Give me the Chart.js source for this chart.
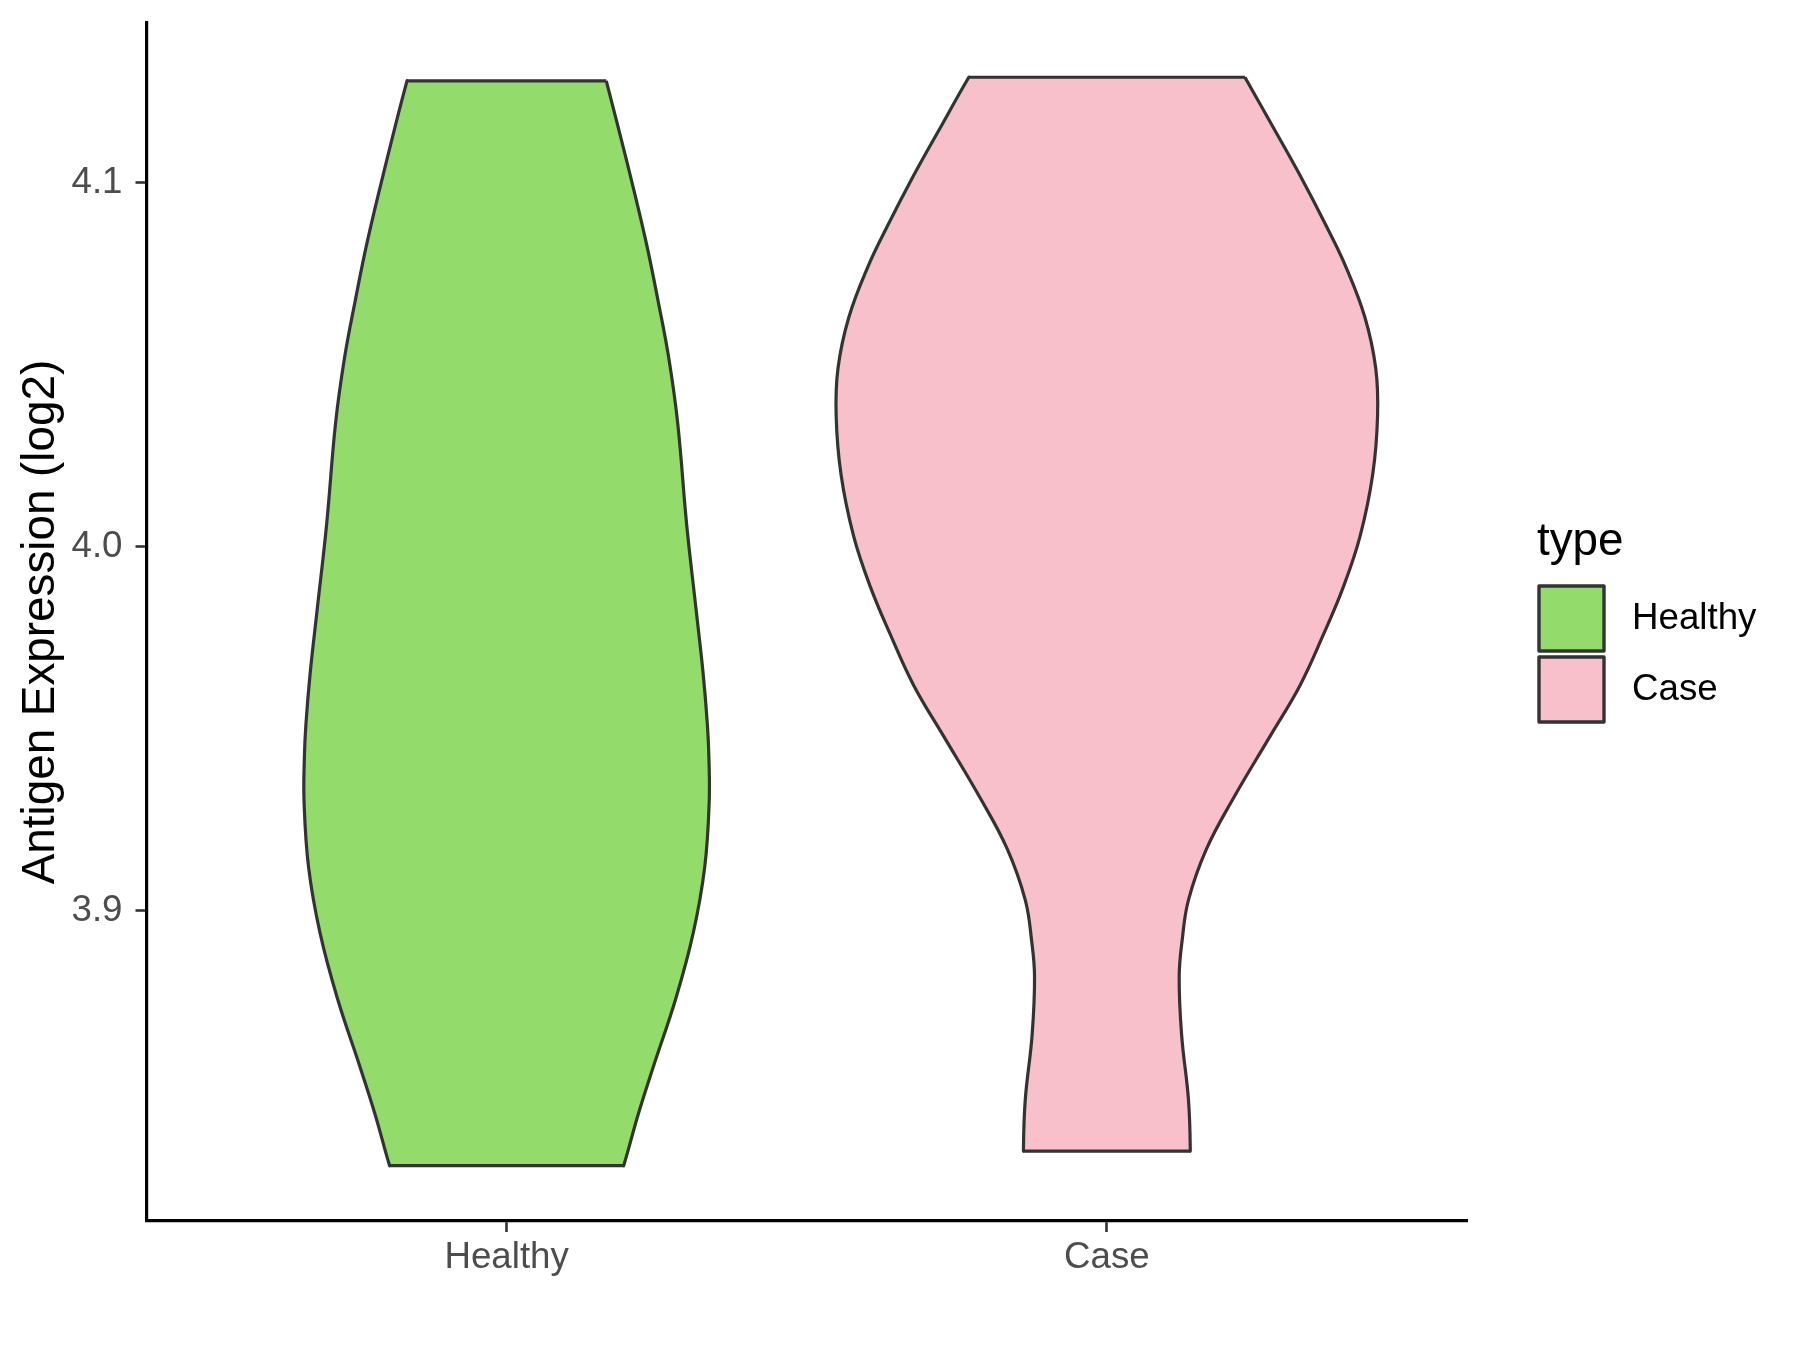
<!DOCTYPE html>
<html>
<head>
<meta charset="utf-8">
<script src="https://cdn.jsdelivr.net/npm/chart.js@4/dist/chart.umd.min.js"></script>
<style>
html,body{margin:0;padding:0;background:#ffffff;}
#wrap{width:1800px;height:1350px;position:relative;}
</style>
</head>
<body>
<div id="wrap"><canvas id="c" width="1800" height="1350"></canvas></div>
<script>
// ---- data ----
const categories = ['Healthy', 'Case'];
const fillColors = ['#93DC6B', '#F7C0CB'];

// Healthy violin: y levels (log2 expression) and half-widths (in category units)
const healthyY = [4.128, 4.106, 4.084, 4.067, 4.052, 4.034, 4.006, 3.983, 3.965, 3.951, 3.942, 3.930, 3.912, 3.894, 3.876, 3.857, 3.844, 3.830];
const healthyHalfWidth = [0.166, 0.200, 0.232, 0.253, 0.270, 0.285, 0.300, 0.3155, 0.3275, 0.3345, 0.337, 0.3375, 0.330, 0.311, 0.282, 0.244, 0.219, 0.195];

// Case violin
const caseY = [4.129, 4.115, 4.102, 4.088, 4.077, 4.063, 4.049, 4.036, 4.020, 4.003, 3.989, 3.976, 3.962, 3.948, 3.931, 3.917, 3.903, 3.892, 3.882, 3.866, 3.848, 3.834];
const caseHalfWidth = [0.230, 0.278, 0.322, 0.366, 0.398, 0.430, 0.448, 0.451, 0.443, 0.422, 0.394, 0.361, 0.322, 0.272, 0.211, 0.166, 0.136, 0.1255, 0.1205, 0.1245, 0.136, 0.139];

const yTicks = [3.9, 4.0, 4.1];
const yRange = [3.8148, 4.1439];
const xRange = [0.4, 2.6];
const yTitle = 'Antigen Expression (log2)';
const legendTitle = 'type';

// ---- build closed outlines (right side down, left side up) ----
const EPS = 0.002; // tiny step along the flat ends keeps corners sharp under spline smoothing
function outline(center, ys, hw) {
  const n = ys.length;
  const pts = [];
  for (let i = 0; i < n; i++) pts.push({x: center + hw[i], y: ys[i]});
  pts.push({x: center + hw[n - 1] - EPS, y: ys[n - 1]});
  pts.push({x: center - hw[n - 1] + EPS, y: ys[n - 1]});
  for (let i = n - 1; i >= 0; i--) pts.push({x: center - hw[i], y: ys[i]});
  pts.push({x: center - hw[0] + EPS, y: ys[0]});
  pts.push({x: center + hw[0] - EPS, y: ys[0]});
  pts.push({x: center + hw[0], y: ys[0]});
  return pts;
}
const series = [[healthyY, healthyHalfWidth], [caseY, caseHalfWidth]];

const FONT = '"Liberation Sans", Arial, Helvetica, sans-serif';

const legendPlugin = {
  id: 'violinLegend',
  afterDraw(chart) {
    const ctx = chart.ctx;
    ctx.save();
    ctx.fillStyle = '#000000';
    ctx.font = '45.8px ' + FONT;
    ctx.textAlign = 'left';
    ctx.textBaseline = 'alphabetic';
    ctx.fillText(legendTitle, 1537, 555);
    chart.data.datasets.forEach((ds, i) => {
      const y0 = 586 + i * 71;
      ctx.fillStyle = ds.backgroundColor;
      ctx.fillRect(1539, y0, 65, 65);
      ctx.lineWidth = 3.4;
      ctx.strokeStyle = '#333333';
      ctx.lineJoin = 'round';
      ctx.strokeRect(1539, y0, 65, 65);
      ctx.fillStyle = '#000000';
      ctx.font = '36.7px ' + FONT;
      ctx.textBaseline = 'middle';
      ctx.fillText(ds.label, 1632, y0 + 33);
    });
    ctx.restore();
  }
};

new Chart(document.getElementById('c'), {
  type: 'scatter',
  data: {
    datasets: categories.map((name, i) => ({
      label: name,
      data: outline(i + 1, series[i][0], series[i][1]),
      showLine: true,
      fill: 'shape',
      backgroundColor: fillColors[i],
      borderColor: '#333333',
      borderWidth: 3.2,
      borderJoinStyle: 'miter',
      pointRadius: 0,
      pointHoverRadius: 0,
      tension: 0.4
    }))
  },
  options: {
    responsive: false,
    animation: false,
    devicePixelRatio: 1,
    layout: {padding: {left: 0, right: 333, top: 23, bottom: 0}},
    plugins: {legend: {display: false}, tooltip: {enabled: false}},
    scales: {
      x: {
        type: 'linear',
        min: xRange[0], max: xRange[1],
        afterBuildTicks(scale) { scale.ticks = categories.map((c, i) => ({value: i + 1})); },
        afterFit(scale) { scale.height = 129; scale.paddingLeft = 0; scale.paddingRight = 0; },
        ticks: {
          callback: (v) => categories[Math.round(v) - 1],
          color: '#4D4D4D',
          font: {size: 36.7, family: FONT},
          padding: 4,
          maxRotation: 0,
          autoSkip: false
        },
        grid: {display: true, drawOnChartArea: false, drawTicks: true, tickLength: 11, tickColor: '#333333', tickWidth: 2.6},
        border: {display: true, color: '#000000', width: 3.2}
      },
      y: {
        type: 'linear',
        min: yRange[0], max: yRange[1],
        afterBuildTicks(scale) { scale.ticks = yTicks.map(v => ({value: v})); },
        afterFit(scale) { scale.width = 146.5; scale.paddingTop = 0; scale.paddingBottom = 0; },
        ticks: {
          callback: (v) => Number(v).toFixed(1),
          color: '#4D4D4D',
          font: {size: 36.7, family: FONT},
          padding: 13
        },
        grid: {display: true, drawOnChartArea: false, drawTicks: true, tickLength: 11, tickColor: '#333333', tickWidth: 2.6},
        border: {display: true, color: '#000000', width: 3.2},
        title: {display: true, text: yTitle, color: '#000000', font: {size: 45.8, family: FONT}, padding: {top: 14, bottom: 0}}
      }
    }
  },
  plugins: [legendPlugin]
});
</script>
</body>
</html>
